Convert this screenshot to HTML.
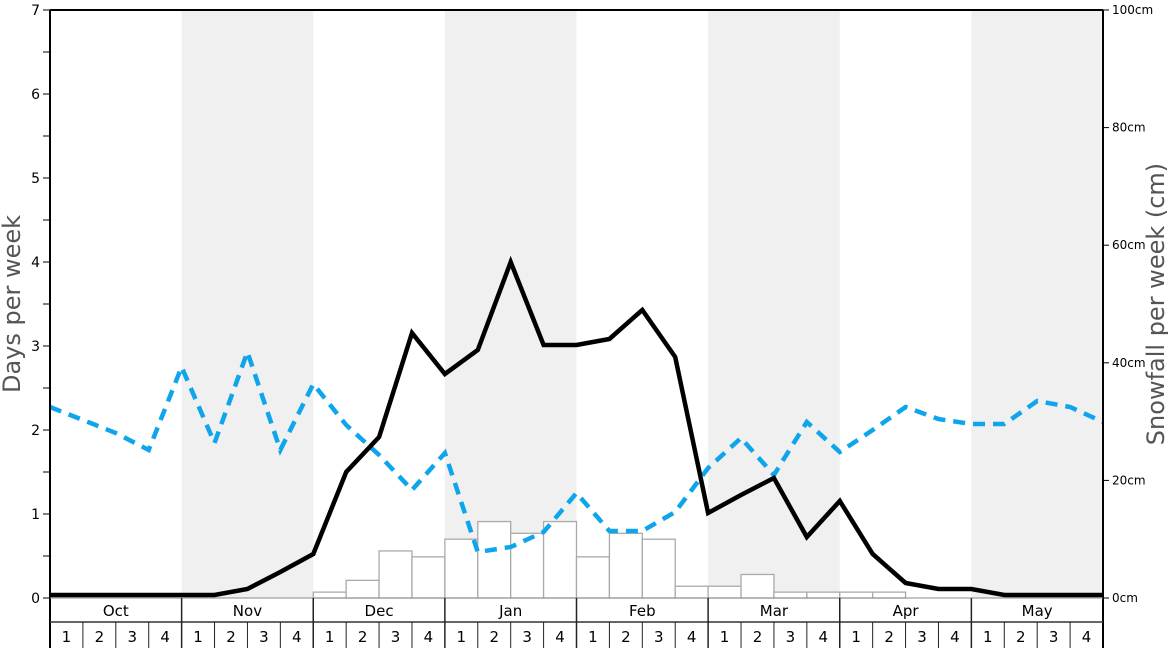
<!DOCTYPE html>
<html><head><meta charset="utf-8"><style>
html,body{margin:0;padding:0;background:#fff;}
svg{display:block;font-family:"DejaVu Sans","Liberation Sans",sans-serif;}
</style></head><body>
<svg id="s" width="1168" height="648" xmlns="http://www.w3.org/2000/svg"></svg>
<script>
const s=document.getElementById('s');
let h='';
const X0=50,X1=1103,Y0=10,Y1=598,W=(X1-X0)/32;
const bx=k=>X0+k*W;
// shaded bands
[1,3,5,7].forEach(m=>{h+=`<rect x="${bx(m*4)}" y="${Y0}" width="${W*4}" height="${Y1-Y0}" fill="#f0f0f0"/>`;});
// bars (cm)
const bars={8:1,9:3,10:8,11:7,12:10,13:13,14:11,15:13,16:7,17:11,18:10,19:2,20:2,21:4,22:1,23:1,24:1,25:1};
for(const k in bars){const v=bars[k];const y=Y1-v*5.88;h+=`<rect x="${bx(+k)}" y="${y}" width="${W}" height="${Y1-y}" fill="#fff" stroke="#aaa" stroke-width="1.3"/>`;}
// black line
const blk=[595,595,595,595,595,595,589,572,554,472,437,333,374,350,262,345,345,339,310,357,513,495,478,537,501,554,583,589,589,595,595,595,595];
// blue dashed
const blu=[407,420,433,450,367,443,352,450,384,425,455,490,453,552,547,532,493,531,531,512,468,438,475,422,452,430,407,419,424,424,401,407,422];
const pts=a=>a.map((y,i)=>`${bx(i).toFixed(1)},${y}`).join(' ');
h+=`<polyline points="${pts(blu)}" fill="none" stroke="#0ea5ec" stroke-width="4.5" stroke-dasharray="12,8"/>`;
h+=`<polyline points="${pts(blk)}" fill="none" stroke="#000" stroke-width="4.5" stroke-linejoin="miter"/>`;
// frame
h+=`<line x1="${X0}" y1="${Y0}" x2="${X1}" y2="${Y0}" stroke="#000" stroke-width="2"/>`;
h+=`<line x1="${X0}" y1="${Y0}" x2="${X0}" y2="648" stroke="#000" stroke-width="2"/>`;
h+=`<line x1="${X1}" y1="${Y0}" x2="${X1}" y2="648" stroke="#000" stroke-width="2"/>`;
// left ticks
for(let i=0;i<=14;i++){const y=Y1-i*42;h+=`<line x1="43" y1="${y}" x2="${X0}" y2="${y}" stroke="#000" stroke-width="1"/>`;if(i%2==0)h+=`<text x="40" y="${y+5}" font-size="14" text-anchor="end">${i/2}</text>`;}
// right ticks
for(let i=0;i<=5;i++){const y=Y1-i*117.6;h+=`<line x1="${X1}" y1="${y}" x2="1109" y2="${y}" stroke="#000" stroke-width="1"/>`;h+=`<text x="1112" y="${y+4}" font-size="12">${i*20}cm</text>`;}
// axis titles
h+=`<text transform="translate(20,304) rotate(-90)" font-size="24" fill="#555" text-anchor="middle">Days per week</text>`;
h+=`<text transform="translate(1164,304) rotate(-90)" font-size="24" fill="#555" text-anchor="middle">Snowfall per week (cm)</text>`;
// table
h+=`<line x1="${X0}" y1="598" x2="${X1}" y2="598" stroke="#888" stroke-width="1"/>`;
h+=`<line x1="${X0}" y1="622" x2="${X1}" y2="622" stroke="#333" stroke-width="1.5"/>`;
const ms=['Oct','Nov','Dec','Jan','Feb','Mar','Apr','May'];
ms.forEach((m,i)=>{const x=bx(i*4);if(i>0)h+=`<line x1="${x}" y1="598" x2="${x}" y2="648" stroke="#222" stroke-width="1.5"/>`;h+=`<text x="${x+2*W}" y="616" font-size="15" text-anchor="middle">${m}</text>`;
for(let w=0;w<4;w++){const xx=bx(i*4+w);if(w>0)h+=`<line x1="${xx}" y1="622" x2="${xx}" y2="648" stroke="#222" stroke-width="1"/>`;h+=`<text x="${xx+W/2}" y="642" font-size="15" text-anchor="middle">${w+1}</text>`;}});
s.innerHTML=h;
</script>
</body></html>
